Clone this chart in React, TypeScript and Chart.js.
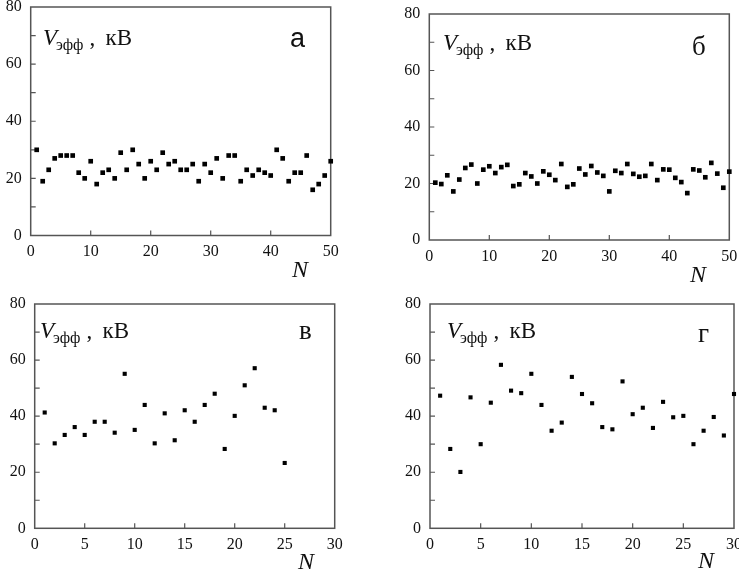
import React, { useEffect, useRef } from "react";
import { Chart, registerables } from "chart.js";

Chart.register(...registerables);

const W = 739;
const H = 571;

// ---- data ----
const nA = [1,2,3,4,5,6,7,8,9,10,11,12,13,14,15,16,17,18,19,20,21,22,23,24,25,26,27,28,29,30,31,32,33,34,35,36,37,38,39,40,41,42,43,44,45,46,47,48,49,50];
const vA = [30,19,23,27,28,28,28,22,20,26,18,22,23,20,29,23,30,25,20,26,23,29,25,26,23,23,25,19,25,22,27,20,28,28,19,23,21,23,22,21,30,27,19,22,22,28,16,18,21,26];

const nB = [1,2,3,4,5,6,7,8,9,10,11,12,13,14,15,16,17,18,19,20,21,22,23,24,25,26,27,28,29,30,31,32,33,34,35,36,37,38,39,40,41,42,43,44,45,46,47,48,49,50];
const vB = [20.3,19.8,22.9,17.2,21.4,25.5,26.7,20,24.9,26.1,23.7,25.8,26.6,19.1,19.7,23.7,22.5,20,24.3,23.1,21.2,26.9,18.8,19.7,25.3,23.2,26.2,23.9,22.7,17.2,24.5,23.7,26.9,23.4,22.4,22.7,26.9,21.2,25,24.9,22,20.5,16.6,25,24.6,22.2,27.3,23.5,18.5,24.2];

const nV = [1,2,3,4,5,6,7,8,9,10,11,12,13,14,15,16,17,18,19,20,21,22,23,24,25];
const vV = [41.3,30.3,33.3,36.1,33.3,38,38,34.1,55.1,35.1,44,30.3,41,31.4,42.1,38,44,48,28.3,40.1,51,57.1,43,42.1,23.3];

const nG = [1,2,3,4,5,6,7,8,9,10,11,12,13,14,15,16,17,18,19,20,21,22,23,24,25,26,27,28,29,30];
const vG = [47.3,28.3,20.1,46.7,30,44.8,58.3,49.1,48.2,55.1,44,34.8,37.7,54,47.9,44.6,36.1,35.3,52.4,40.7,43,35.8,45.1,39.6,40.1,30,34.8,39.7,33.1,47.9];

const yTicks = [0, 20, 40, 60, 80];
const yMinorTicks = [10, 30, 50, 70];
const xTicksAB = [0, 10, 20, 30, 40, 50];
const xTicksVG = [0, 5, 10, 15, 20, 25, 30];

const yLabelText = { main: "V", sub: "эфф", unit: "кВ" };
const axisXLabel = "N";

// ---- layout / style ----
const YW = 30;
const XH = 30;
const SERIF = '"Liberation Serif", "Times New Roman", serif';
const SANS = '"Liberation Sans", Arial, sans-serif';
const AXIS_COLOR = "#555";

Chart.defaults.font.family = SERIF;

type Panel = {
  n: number[];
  v: number[];
  xTicks: number[];
  L: number; R: number; T: number; B: number;
  r: number;
  letter: string; letterFont: string; letterX: number; letterY: number;
  vX: number; vY: number;
  nX: number; nY: number;
};

const panels: Panel[] = [
  { n: nA, v: vA, xTicks: xTicksAB, L: 30.7, R: 330.7, T: 7, B: 235.5, r: 3.3,
    letter: "а", letterFont: `27px ${SANS}`, letterX: 290, letterY: 47,
    vX: 43, vY: 45, nX: 292, nY: 277 },
  { n: nB, v: vB, xTicks: xTicksAB, L: 429.3, R: 729.3, T: 14, B: 240, r: 3.3,
    letter: "б", letterFont: `27px ${SERIF}`, letterX: 692, letterY: 55,
    vX: 443, vY: 50, nX: 690, nY: 282 },
  { n: nV, v: vV, xTicks: xTicksVG, L: 34.7, R: 334.7, T: 304, B: 528.3, r: 2.9,
    letter: "в", letterFont: `27px ${SERIF}`, letterX: 299, letterY: 339,
    vX: 40, vY: 338, nX: 298, nY: 569 },
  { n: nG, v: vG, xTicks: xTicksVG, L: 430, R: 734, T: 304, B: 528.3, r: 2.9,
    letter: "г", letterFont: `27px ${SERIF}`, letterX: 698, letterY: 342,
    vX: 447, vY: 338, nX: 698, nY: 568 },
];

function PanelChart({ p }: { p: Panel }) {
  const ref = useRef<HTMLCanvasElement | null>(null);
  useEffect(() => {
    if (!ref.current) return;
    const xMin = p.xTicks[0];
    const xMax = p.xTicks[p.xTicks.length - 1];
    const xStep = p.xTicks[1] - p.xTicks[0];
    const decor = {
      id: "decor",
      beforeDatasetsDraw(chart: any) {
        const ctx = chart.ctx;
        const a = chart.chartArea;
        const xs = chart.scales.x;
        const ys = chart.scales.y;
        ctx.save();
        ctx.strokeStyle = AXIS_COLOR;
        ctx.lineWidth = 1.5;
        ctx.strokeRect(a.left, a.top, a.right - a.left, a.bottom - a.top);
        ctx.lineWidth = 1.2;
        ctx.beginPath();
        [...yTicks, ...yMinorTicks].forEach((t) => {
          if (t === 0 || t === 80) return;
          const y = ys.getPixelForValue(t);
          ctx.moveTo(a.left, y);
          ctx.lineTo(a.left + 5, y);
        });
        p.xTicks.forEach((t) => {
          if (t === xMin || t === xMax) return;
          const x = xs.getPixelForValue(t);
          ctx.moveTo(x, a.bottom);
          ctx.lineTo(x, a.bottom - 5);
        });
        ctx.stroke();
        ctx.restore();
      },
      afterDraw(chart: any) {
        const ctx = chart.ctx;
        ctx.save();
        ctx.fillStyle = "#111";
        ctx.textBaseline = "alphabetic";
        ctx.textAlign = "left";
        // V_эфф , кВ
        ctx.font = `italic 23px ${SERIF}`;
        ctx.fillText(yLabelText.main, p.vX, p.vY);
        let x = p.vX + ctx.measureText(yLabelText.main).width - 1;
        ctx.font = `16px ${SERIF}`;
        ctx.fillText(yLabelText.sub, x, p.vY + 5);
        x += ctx.measureText(yLabelText.sub).width + 6;
        ctx.font = `23px ${SERIF}`;
        ctx.fillText(",", x, p.vY);
        ctx.fillText(yLabelText.unit, x + 16, p.vY);
        // panel letter
        ctx.font = p.letterFont;
        ctx.fillText(p.letter, p.letterX, p.letterY);
        // N
        ctx.font = `italic 24px ${SERIF}`;
        ctx.fillText(axisXLabel, p.nX, p.nY);
        ctx.restore();
      },
    };
    const chart = new Chart(ref.current, {
      type: "scatter",
      data: {
        datasets: [
          {
            data: p.n.map((n, i) => ({ x: n, y: p.v[i] })),
            pointStyle: "rect",
            pointRadius: p.r,
            pointBackgroundColor: "#000",
            pointBorderWidth: 0,
            showLine: false,
            clip: false as any,
          },
        ],
      },
      options: {
        animation: false,
        responsive: false,
        events: [],
        devicePixelRatio: 1,
        layout: {
          autoPadding: false,
          padding: {
            left: p.L - YW,
            top: p.T,
            right: W - p.R,
            bottom: H - p.B - XH,
          },
        },
        plugins: { legend: { display: false }, tooltip: { enabled: false } },
        scales: {
          x: {
            type: "linear",
            min: xMin,
            max: xMax,
            grid: { display: false, drawTicks: false },
            border: { display: false },
            ticks: {
              stepSize: xStep,
              padding: 7,
              color: "#111",
              font: { family: SERIF, size: 16 },
              maxRotation: 0,
              autoSkip: false,
            },
            afterFit: (s: any) => {
              s.height = XH;
              s.paddingLeft = 0;
              s.paddingRight = 0;
            },
          },
          y: {
            type: "linear",
            min: 0,
            max: 80,
            grid: { display: false, drawTicks: false },
            border: { display: false },
            ticks: {
              stepSize: 20,
              padding: 9,
              color: "#111",
              font: { family: SERIF, size: 16 },
              autoSkip: false,
            },
            afterFit: (s: any) => {
              s.width = YW;
              s.paddingTop = 0;
              s.paddingBottom = 0;
            },
          },
        },
      },
      plugins: [decor],
    } as any);
    return () => chart.destroy();
  }, [p]);
  return (
    <canvas
      ref={ref}
      width={W}
      height={H}
      style={{ position: "absolute", left: 0, top: 0, width: W, height: H }}
    />
  );
}

export default function App() {
  return (
    <div
      style={{
        position: "absolute",
        left: 0,
        top: 0,
        width: W,
        height: H,
        background: "#fff",
        overflow: "hidden",
      }}
    >
      {panels.map((p, i) => (
        <PanelChart key={i} p={p} />
      ))}
    </div>
  );
}
